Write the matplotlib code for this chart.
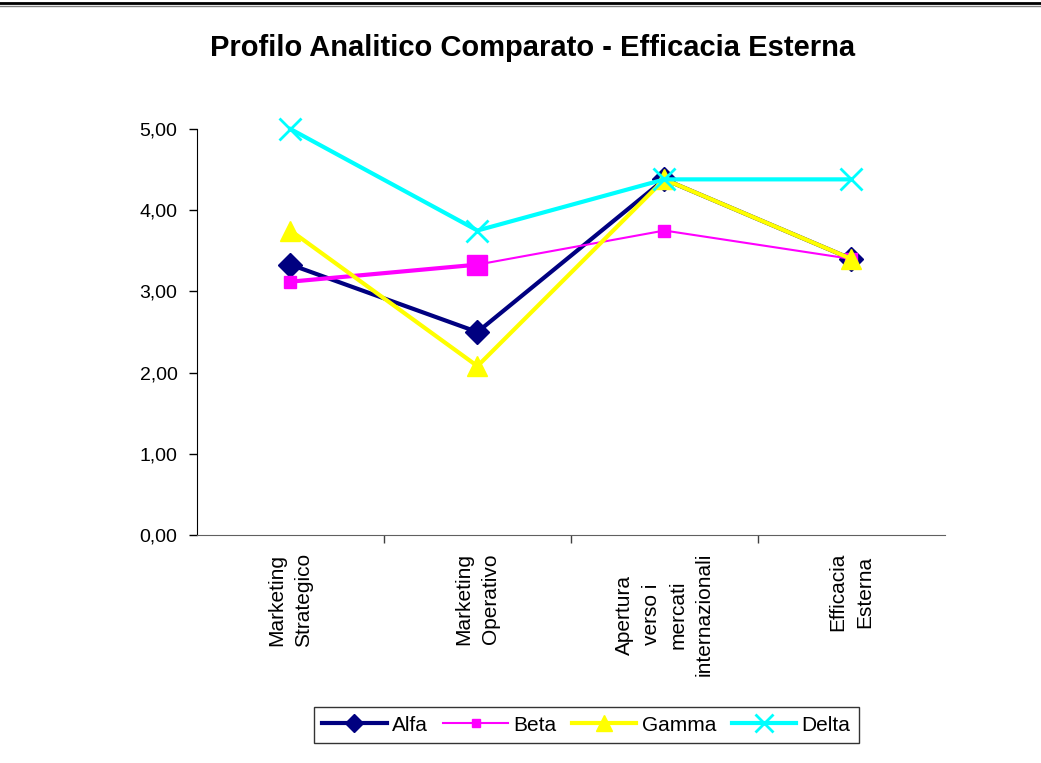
import matplotlib
matplotlib.use('Agg')
import matplotlib.pyplot as plt
from matplotlib.ticker import FixedLocator, FuncFormatter

plt.rcParams['font.family'] = ['Liberation Sans', 'DejaVu Sans']

categories = ['Marketing\nStrategico', 'Marketing\nOperativo',
              'Apertura\nverso i\nmercati\ninternazionali', 'Efficacia\nEsterna']
alfa = [3.33, 2.50, 4.38, 3.40]
beta = [3.12, 3.33, 3.75, 3.40]
gamma = [3.75, 2.08, 4.38, 3.40]
delta = [5.00, 3.75, 4.38, 4.38]
yticks = [0, 1, 2, 3, 4, 5]

fig = plt.figure(figsize=(10.41, 7.63), dpi=100)
ax = fig.add_axes([0.1892, 0.2988, 0.7185, 0.5321])

x = list(range(len(categories)))

# top frame line (chart border)
fig.add_artist(plt.Line2D([0, 1], [0.9965, 0.9965], color='black', lw=2.0, transform=fig.transFigure))
fig.add_artist(plt.Line2D([0, 1], [0.9925, 0.9925], color='#808080', lw=1.0, transform=fig.transFigure))

l_alfa, = ax.plot(x, alfa, color='#000080', lw=3, marker='D', ms=12, label='Alfa', zorder=3, clip_on=False)
# Beta: thin line, first segment drawn thicker as in the original
ax.plot(x[:2], beta[:2], color='#FF00FF', lw=3, zorder=4)
l_beta, = ax.plot(x, beta, color='#FF00FF', lw=1.5, marker='s', ms=8, label='Beta', zorder=4)
ax.plot(x[1:2], beta[1:2], color='#FF00FF', marker='s', ms=14, ls='none', zorder=4)
l_gamma, = ax.plot(x, gamma, color='#FFFF00', lw=3, marker='^', ms=15, label='Gamma', zorder=5, clip_on=False)
l_delta, = ax.plot(x, delta, color='#00FFFF', lw=3, marker='x', ms=16, mew=2, label='Delta', zorder=6,
                   clip_on=False)

ax.set_xlim(-0.5, len(categories) - 0.5)
ax.set_ylim(0, 5)
ax.yaxis.set_major_locator(FixedLocator(yticks))
ax.yaxis.set_major_formatter(FuncFormatter(lambda v, p: f'{v:.2f}'.replace('.', ',')))
ax.tick_params(axis='y', direction='out', length=6, width=1, labelsize=14, pad=8)

ax.set_xticks(x)
ax.set_xticklabels(categories, rotation=90, fontsize=15, ha='center', va='top',
                   multialignment='center', linespacing=1.5)
ax.tick_params(axis='x', length=0, pad=13)
ax.xaxis.set_minor_locator(FixedLocator([0.5, 1.5, 2.5]))
ax.tick_params(axis='x', which='minor', direction='out', length=6, width=1, color='#404040')

for s in ['top', 'right']:
    ax.spines[s].set_visible(False)
ax.spines['left'].set_color('black')
ax.spines['bottom'].set_color('#606060')

fig.text(0.512, 0.937, 'Profilo Analitico Comparato - Efficacia Esterna',
         ha='center', va='center', fontsize=21, fontweight='bold')

leg = fig.legend(handles=[l_alfa, l_beta, l_gamma, l_delta], loc='center',
                 bbox_to_anchor=(0.563, 0.0498), ncol=4, fontsize=15, frameon=True,
                 fancybox=False, edgecolor='black', handlelength=3.1, handletextpad=0.25,
                 columnspacing=0.75, borderpad=0.4, markerscale=0.8)
leg.get_frame().set_linewidth(1.0)

fig.savefig('out.png', dpi=100)
